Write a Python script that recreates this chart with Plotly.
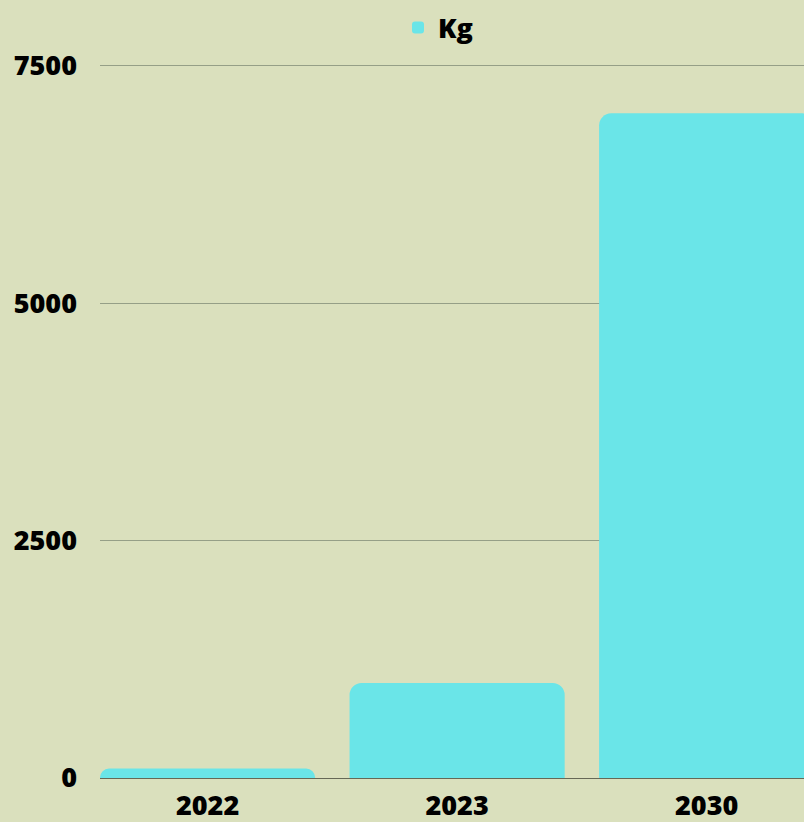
import plotly.graph_objects as go

categories = ["2022", "2023", "2030"]
kg_values = [100, 1000, 7000]
y_ticks = [0, 2500, 5000, 7500]

BG = "#dae0bd"
BAR = "#6ae5e8"
FONT = dict(family="'Open Sans', Lato, sans-serif", size=27, color="#000000", weight=800)

W, H = 804, 822
ML, MR, MT, MB = 100, 0, 64, 44
plot_w = W - ML - MR
plot_h = H - MT - MB

fig = go.Figure()
fig.add_trace(go.Bar(
    x=categories, y=kg_values, name="Kg",
    marker=dict(color=BAR, line=dict(width=0), cornerradius=12),
    width=0.862,
    showlegend=True,
))

fig.update_layout(
    width=W, height=H,
    paper_bgcolor=BG, plot_bgcolor=BG,
    margin=dict(l=ML, r=MR, t=MT, b=MB, autoexpand=False),
    font=FONT,
    showlegend=True,
    legend=dict(orientation="h", x=(398 - ML) / plot_w, xanchor="left",
                y=1 + 36 / plot_h, yanchor="middle",
                font=FONT, bgcolor="rgba(0,0,0,0)", itemwidth=30),
    xaxis=dict(
        type="category", range=[-0.431, 2.39], automargin=False,
        showgrid=False, zeroline=False,
        showline=True, linecolor="rgba(40,40,30,0.65)", linewidth=1,
        ticks="", tickfont=FONT, ticklabelstandoff=4,
    ),
    yaxis=dict(
        range=[0, 7520], tickvals=y_ticks, ticktext=[str(v) for v in y_ticks],
        automargin=False,
        showgrid=True, gridcolor="#959f87", gridwidth=1,
        zeroline=False, showline=False, ticks="",
        tickfont=FONT, ticklabelstandoff=22,
    ),
    bargap=0.138,
)

post = ("document.body.style.margin='0';document.body.style.overflow='hidden';"
        "document.body.style.background='%s';" % BG)
fig.write_html("out.html", post_script=post, config={"displayModeBar": False})
